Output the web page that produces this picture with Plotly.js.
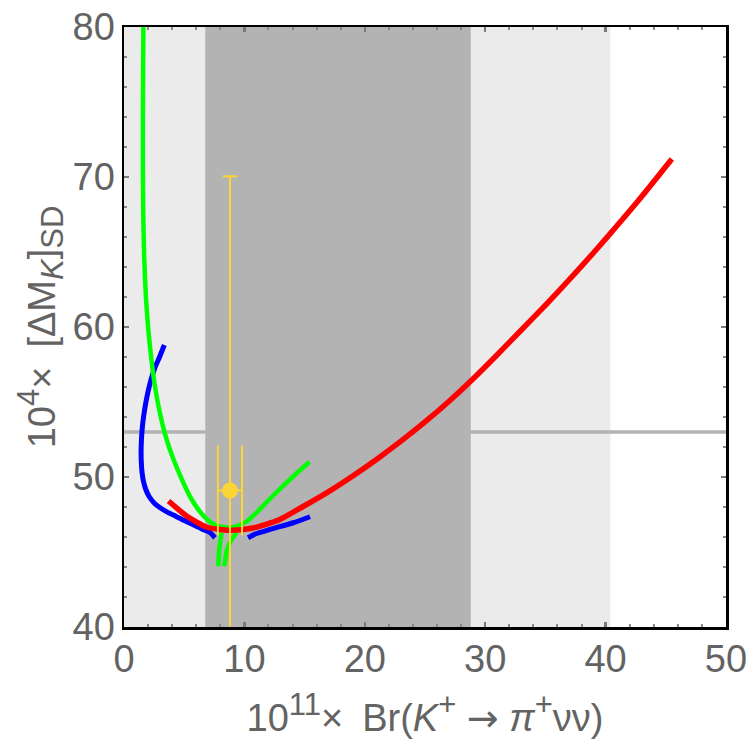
<!DOCTYPE html>
<html>
<head>
<meta charset="utf-8">
<script src="https://cdn.plot.ly/plotly-3.0.1.min.js"></script>
<style>
  html, body { margin: 0; padding: 0; background: #ffffff; }
  #chart { width: 753px; height: 742px; }
</style>
</head>
<body>
<div id="chart"></div>
<script>
// Curves of the short-distance Delta M_K contribution vs. Br(K+ -> pi+ nu nu)

// blue curve, lower-left branch
const blueA_x = [3.35, 2.95, 2.57, 2.25, 2.0, 1.8, 1.64, 1.52, 1.45, 1.42, 1.44, 1.5, 1.62, 1.82, 2.1, 2.5, 3.0, 3.6, 4.3, 5.0, 5.8, 6.5, 7.14, 7.56];
const blueA_y = [58.8, 58.0, 57.3, 56.5, 55.7, 54.9, 54.1, 53.3, 52.5, 51.7, 50.95, 50.3, 49.7, 49.15, 48.68, 48.27, 47.95, 47.66, 47.38, 47.1, 46.8, 46.52, 46.3, 45.95];
// blue curve, right branch
const blueB_x = [10.3, 10.9, 12.1, 14.06, 15.45];
const blueB_y = [45.95, 46.2, 46.5, 46.95, 47.35];

// green curve, main branch
const greenA_x = [1.62, 1.59, 1.57, 1.57, 1.6, 1.68, 1.82, 2.02, 2.28, 2.6, 3.0, 3.5, 4.1, 4.8, 5.55, 6.4, 7.2, 7.97, 8.7, 9.4, 10.2, 11.1, 12.0, 12.95, 14.2, 15.4];
const greenA_y = [81.0, 77.5, 74.0, 70.5, 67.5, 64.6, 62.0, 59.8, 57.8, 55.9, 54.2, 52.6, 51.2, 49.85, 48.6, 47.6, 46.98, 46.7, 46.62, 46.72, 47.05, 47.7, 48.45, 49.2, 50.15, 51.0];
// green curve, two short lower branches
const greenB_x = [8.11, 7.91, 7.83];
const greenB_y = [46.3, 45.17, 44.05];
const greenC_x = [9.36, 8.85, 8.57, 8.33];
const greenC_y = [46.3, 45.7, 45.17, 44.05];

// red curve
const red_x = [3.7, 5.2, 6.9, 8.8, 10.7, 12.9, 14.8, 17, 19, 21, 23, 25, 27, 29, 31, 33, 35, 37, 39, 41, 43, 45.5];
const red_y = [48.4, 47.4, 46.65, 46.45, 46.6, 47.15, 48.0, 49.03, 50.07, 51.19, 52.39, 53.67, 55.05, 56.55, 58.15, 59.8, 61.45, 63.17, 64.95, 66.8, 68.7, 71.2];

// measured point with its errors
const point_x = [8.8];
const point_y = [49.1];
const point_xerr = [1.0];
const point_yerr_plus = [20.95];
const point_yerr_minus = [12.0];

// experimental bands and reference value
const band1 = [6.75, 28.8];   // inner band
const band2 = [0, 40.4];      // outer band
const refLine = 53.0;

const xTicks = [0, 10, 20, 30, 40, 50];
const yTicks = [40, 50, 60, 70, 80];

const gray = '#636363';
const fontFam = '"Liberation Sans", Arial, Helvetica, sans-serif';
const fs = 38;
const big = s => '<span style="font-size:31px">' + s + '</span>';
const sp = '\u2002';
const arrow = '<span style="font-family:\'DejaVu Sans\'">→</span>';

const xTitle = '10<sup>' + big('11') + '</sup>×' + sp + 'Br(<i>K</i><sup>' + big('+') + '</sup> ' + arrow + ' <i>π</i><sup>' + big('+') + '</sup>νν)';
const yTitle = '10<sup>' + big('4') + '</sup>×' + sp + '[ΔM<sub>' + big('<i>K</i>') + '</sub>]<sub>' + big('SD') + '</sub>';

const curve = (x, y, color, w) => ({ x: x, y: y, mode: 'lines', line: { color: color, width: w, shape: 'spline', smoothing: 0.6 }, hoverinfo: 'skip' });

const traces = [
  curve(blueA_x, blueA_y, '#0000ff', 5),
  curve(blueB_x, blueB_y, '#0000ff', 5),
  curve(greenA_x, greenA_y, '#00ff00', 4.5),
  curve(greenB_x, greenB_y, '#00ff00', 4.5),
  curve(greenC_x, greenC_y, '#00ff00', 4.5),
  curve(red_x, red_y, '#ff0000', 5.5),
  {
    x: point_x, y: point_y, mode: 'markers',
    marker: { color: '#fcd535', size: 16 },
    error_x: { type: 'data', array: point_xerr, symmetric: true, color: '#fcd535', thickness: 2, width: 45 },
    error_y: { type: 'data', array: point_yerr_plus, arrayminus: point_yerr_minus, symmetric: false, color: '#fcd535', thickness: 2, width: 7 },
    hoverinfo: 'skip'
  }
];

const layout = {
  width: 753, height: 742,
  margin: { l: 124, r: 27, t: 27, b: 115 },
  paper_bgcolor: '#ffffff', plot_bgcolor: '#ffffff',
  showlegend: false,
  font: { family: fontFam, color: gray, size: fs },
  xaxis: {
    range: [0, 50], tickvals: xTicks, ticktext: xTicks.map(String),
    ticks: 'inside', ticklen: 5, tickwidth: 2.5, tickcolor: '#7a7a7a',
    minor: { dtick: 2, tick0: 0, ticks: 'inside', ticklen: 3, tickwidth: 2, tickcolor: '#8a8a8a', showgrid: false },
    showline: true, linecolor: '#000000', linewidth: 2.5, mirror: 'ticks',
    showgrid: false, zeroline: false,
    tickfont: { family: fontFam, size: fs, color: gray },
    ticklabelstandoff: -3,
    title: { text: xTitle, font: { family: fontFam, size: fs, color: gray }, standoff: 26 }
  },
  yaxis: {
    range: [40, 80], tickvals: yTicks, ticktext: yTicks.map(String),
    ticks: 'inside', ticklen: 5, tickwidth: 2.5, tickcolor: '#7a7a7a',
    minor: { dtick: 2, tick0: 40, ticks: 'inside', ticklen: 3, tickwidth: 2, tickcolor: '#8a8a8a', showgrid: false },
    showline: true, linecolor: '#000000', linewidth: 2.5, mirror: 'ticks',
    showgrid: false, zeroline: false,
    tickfont: { family: fontFam, size: fs, color: gray },
    ticklabelstandoff: -1,
    title: { text: yTitle, font: { family: fontFam, size: fs, color: gray }, standoff: 6 }
  },
  shapes: [
    { type: 'rect', layer: 'below', xref: 'x', yref: 'paper', x0: band2[0], x1: band2[1], y0: 0, y1: 1, fillcolor: '#ebebeb', line: { width: 0 } },
    { type: 'rect', layer: 'below', xref: 'x', yref: 'paper', x0: band1[0], x1: band1[1], y0: 0, y1: 1, fillcolor: '#b3b3b3', line: { width: 0 } },
    { type: 'line', layer: 'below', xref: 'paper', yref: 'y', x0: 0, x1: 1, y0: refLine, y1: refLine, line: { color: '#b3b3b3', width: 3.5 } }
  ]
};

Plotly.newPlot('chart', traces, layout, { staticPlot: true, displayModeBar: false });
</script>
</body>
</html>
